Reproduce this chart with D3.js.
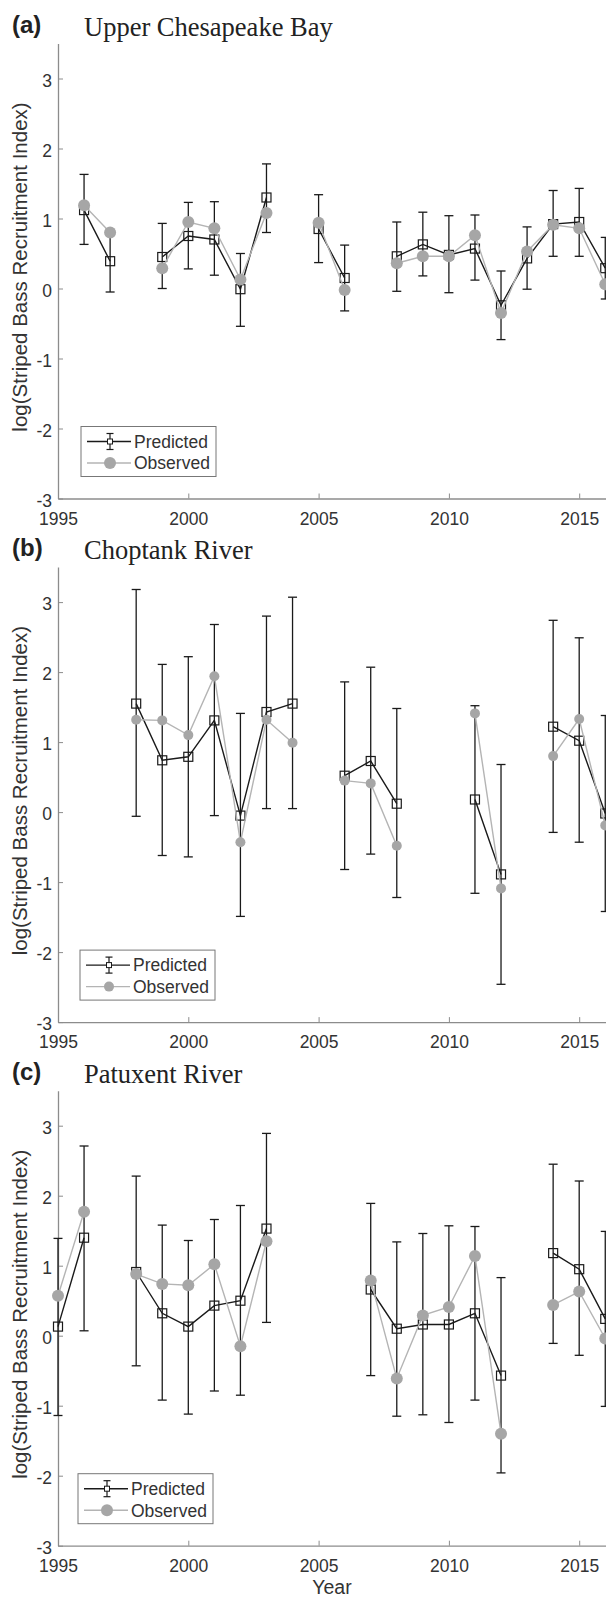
<!DOCTYPE html>
<html>
<head>
<meta charset="utf-8">
<script src="https://cdn.jsdelivr.net/npm/d3@7"></script>
<style>
html,body{margin:0;padding:0;background:#fff;}
svg{display:block;}
</style>
</head>
<body>
<svg id="chart" width="606" height="1598"></svg>
<script>
// ---------- data ----------
const years = [1995,1996,1997,1998,1999,2000,2001,2002,2003,2004,2005,2006,2007,2008,2009,2010,2011,2012,2013,2014,2015,2016];
const xTicks = [1995,2000,2005,2010,2015];
const yTicks = [-3,-2,-1,0,1,2,3];
const panelLetters = ["(a)","(b)","(c)"];
const panelTitles = ["Upper Chesapeake Bay","Choptank River","Patuxent River"];
const legendLabels = ["Predicted","Observed"];

// (a) Upper Chesapeake Bay
const predA = [null,1.12,0.39,null,0.45,0.75,0.70,-0.01,1.30,null,0.85,0.15,null,0.46,0.63,0.48,0.57,-0.24,0.43,0.92,0.95,0.29];
const obsA  = [null,1.19,0.80,null,0.29,0.95,0.86,0.13,1.08,null,0.94,-0.02,null,0.36,0.46,0.46,0.76,-0.35,0.53,0.91,0.86,0.06];
const loA   = [null,0.63,-0.05,null,0.00,0.28,0.19,-0.54,0.80,null,0.37,-0.32,null,-0.04,0.18,-0.06,0.12,-0.73,-0.01,0.46,0.46,-0.15];
const hiA   = [null,1.63,0.83,null,0.93,1.23,1.24,0.50,1.78,null,1.34,0.62,null,0.95,1.09,1.04,1.05,0.25,0.88,1.40,1.43,0.73];

// (b) Choptank River
const predB = [null,null,null,1.55,0.74,0.79,1.31,-0.05,1.43,1.55,null,0.52,0.73,0.12,null,null,0.18,-0.89,null,1.22,1.02,-0.02];
const obsB  = [null,null,null,1.32,1.31,1.10,1.94,-0.43,1.32,0.99,null,0.45,0.41,-0.48,null,null,1.41,-1.09,null,0.80,1.33,-0.19];
const loB   = [null,null,null,-0.06,-0.62,-0.64,-0.05,-1.49,0.05,0.05,null,-0.82,-0.60,-1.22,null,null,-1.16,-2.46,null,-0.29,-0.43,-1.42];
const hiB   = [null,null,null,3.18,2.11,2.22,2.68,1.41,2.80,3.07,null,1.86,2.07,1.48,null,null,1.52,0.68,null,2.74,2.49,1.38];

// (c) Patuxent River
const predC = [0.13,1.40,null,0.91,0.32,0.13,0.43,0.50,1.53,null,null,null,0.66,0.10,0.16,0.16,0.32,-0.57,null,1.18,0.95,0.24];
const obsC  = [0.57,1.77,null,0.88,0.74,0.72,1.02,-0.15,1.35,null,null,null,0.79,-0.61,0.29,0.41,1.14,-1.40,null,0.44,0.63,-0.04];
const loC   = [-1.14,0.07,null,-0.43,-0.92,-1.12,-0.79,-0.85,0.19,null,null,null,-0.57,-1.15,-1.13,-1.24,-0.92,-1.96,null,-0.11,-0.28,-1.01];
const hiC   = [1.39,2.71,null,2.28,1.58,1.36,1.66,1.86,2.89,null,null,null,1.89,1.34,1.46,1.57,1.56,0.83,null,2.45,2.21,1.49];

const panels = [
  {pred:predA, obs:obsA, lo:loA, hi:hiA},
  {pred:predB, obs:obsB, lo:loB, hi:hiB},
  {pred:predC, obs:obsC, lo:loC, hi:hiC}
];

// ---------- layout ----------
const svg = d3.select("#chart");
const sans = "'Liberation Sans', Arial, Helvetica, sans-serif";
const serif = "'Liberation Serif', 'Times New Roman', serif";
const axisColor = "#8c8c8c";
const textColor = "#333";
const obsColor = "#a6a6a6";
const obsLine = "#b4b4b4";
const predColor = "#1a1a1a";

const left = 58;
const pxPerYear = 26.06;
const x = d3.scaleLinear().domain([1995, 2020]).range([left, left + 25*pxPerYear]);

const panelTop0 = 43.5, panelStep = 523.6, plotH = 455;
const radii = [6, 5, 6];
const legendX = [81, 80, 78];

panels.forEach((p, i) => {
  const top = panelTop0 + i*panelStep;
  const bottom = top + plotH;
  const y = d3.scaleLinear().domain([-3, 3.5]).range([bottom, top]);
  const g = svg.append("g");

  // titles
  g.append("text").attr("x", 12).attr("y", top - 11)
    .attr("font-family", sans).attr("font-weight", "bold").attr("font-size", 24)
    .attr("fill", "#222").text(panelLetters[i]);
  g.append("text").attr("x", 84).attr("y", top - 8)
    .attr("font-family", serif).attr("font-size", 26.5)
    .attr("fill", "#222").text(panelTitles[i]);

  // axes
  const xAxis = d3.axisBottom(x).tickValues(xTicks).tickFormat(d3.format("d"))
    .tickSizeInner(-5).tickSizeOuter(0).tickPadding(0);
  const gx = g.append("g").attr("transform", `translate(0,${bottom})`).call(xAxis);
  gx.select(".domain").attr("stroke", axisColor).attr("stroke-width", 1.3);
  gx.selectAll(".tick line").attr("stroke", axisColor).attr("stroke-width", 1);
  gx.selectAll(".tick text").attr("font-family", sans).attr("font-size", 17.5)
    .attr("fill", textColor).attr("dy", null).attr("y", 26);

  const yAxis = d3.axisLeft(y).tickValues(yTicks).tickFormat(d => d < 0 ? "-" + Math.abs(d) : String(d))
    .tickSizeInner(-5).tickSizeOuter(0).tickPadding(6);
  const gy = g.append("g").attr("transform", `translate(${left},0)`).call(yAxis);
  gy.select(".domain").attr("stroke", axisColor).attr("stroke-width", 1.3);
  gy.selectAll(".tick line").attr("stroke", axisColor).attr("stroke-width", 1);
  gy.selectAll(".tick text").attr("font-family", sans).attr("font-size", 17.5)
    .attr("fill", textColor).attr("x", -6).attr("dy", "0.45em");

  // y label
  g.append("text")
    .attr("transform", `translate(20,${(top+bottom)/2 - 4}) rotate(-90)`)
    .attr("text-anchor", "middle").attr("dy", "0.35em")
    .attr("font-family", sans).attr("font-size", 20.5).attr("fill", textColor)
    .text("log(Striped Bass Recruitment Index)");

  const rows = years.map((yr, k) => ({yr, pred:p.pred[k], obs:p.obs[k], lo:p.lo[k], hi:p.hi[k]}));

  // error bars
  const eb = g.append("g").attr("stroke", predColor).attr("stroke-width", 1.3);
  rows.filter(d => d.pred !== null).forEach(d => {
    const cx = x(d.yr);
    eb.append("line").attr("x1", cx).attr("x2", cx).attr("y1", y(d.lo)).attr("y2", y(d.hi));
    eb.append("line").attr("x1", cx-4.5).attr("x2", cx+4.5).attr("y1", y(d.lo)).attr("y2", y(d.lo));
    eb.append("line").attr("x1", cx-4.5).attr("x2", cx+4.5).attr("y1", y(d.hi)).attr("y2", y(d.hi));
  });

  // predicted line
  const predLine = d3.line().defined(d => d.pred !== null).x(d => x(d.yr)).y(d => y(d.pred));
  g.append("path").datum(rows).attr("d", predLine)
    .attr("fill", "none").attr("stroke", predColor).attr("stroke-width", 1.4);

  // predicted squares
  g.append("g").selectAll("rect").data(rows.filter(d => d.pred !== null)).join("rect")
    .attr("x", d => x(d.yr) - 4.5).attr("y", d => y(d.pred) - 4.5)
    .attr("width", 9).attr("height", 9)
    .attr("fill", "none").attr("stroke", predColor).attr("stroke-width", 1.2);

  // observed line + circles
  const obsL = d3.line().defined(d => d.obs !== null).x(d => x(d.yr)).y(d => y(d.obs));
  g.append("path").datum(rows).attr("d", obsL)
    .attr("fill", "none").attr("stroke", obsLine).attr("stroke-width", 1.4);
  g.append("g").selectAll("circle").data(rows.filter(d => d.obs !== null)).join("circle")
    .attr("cx", d => x(d.yr)).attr("cy", d => y(d.obs)).attr("r", radii[i])
    .attr("fill", obsColor);

  // legend
  const lx = legendX[i], ly = top + 383;
  const lg = g.append("g");
  lg.append("rect").attr("x", lx).attr("y", ly).attr("width", 135).attr("height", 50)
    .attr("fill", "#fff").attr("stroke", "#777").attr("stroke-width", 1);
  const r1 = ly + 15, r2 = ly + 36.5;
  const sx0 = lx + 6, sx1 = lx + 50, sxm = lx + 29;
  lg.append("line").attr("x1", sx0).attr("x2", sx1).attr("y1", r1).attr("y2", r1)
    .attr("stroke", predColor).attr("stroke-width", 1.4);
  lg.append("line").attr("x1", sxm).attr("x2", sxm).attr("y1", r1-8).attr("y2", r1+8)
    .attr("stroke", predColor).attr("stroke-width", 1.2);
  [r1-8, r1+8].forEach(yy => lg.append("line").attr("x1", sxm-3.5).attr("x2", sxm+3.5)
    .attr("y1", yy).attr("y2", yy).attr("stroke", predColor).attr("stroke-width", 1.2));
  lg.append("rect").attr("x", sxm-2.5).attr("y", r1-2.5).attr("width", 5).attr("height", 5)
    .attr("fill", "#fff").attr("stroke", predColor).attr("stroke-width", 1);
  lg.append("line").attr("x1", sx0).attr("x2", sx1).attr("y1", r2).attr("y2", r2)
    .attr("stroke", obsLine).attr("stroke-width", 1.4);
  lg.append("circle").attr("cx", sxm).attr("cy", r2).attr("r", radii[i]).attr("fill", obsColor);
  [r1, r2].forEach((yy, k) => lg.append("text").attr("x", lx + 53).attr("y", yy).attr("dy", "0.36em")
    .attr("font-family", sans).attr("font-size", 17.5).attr("fill", textColor).text(legendLabels[k]));
});

// x label
svg.append("text").attr("x", 332).attr("y", 1594).attr("text-anchor", "middle")
  .attr("font-family", sans).attr("font-size", 19.5).attr("fill", textColor).text("Year");
</script>
</body>
</html>
